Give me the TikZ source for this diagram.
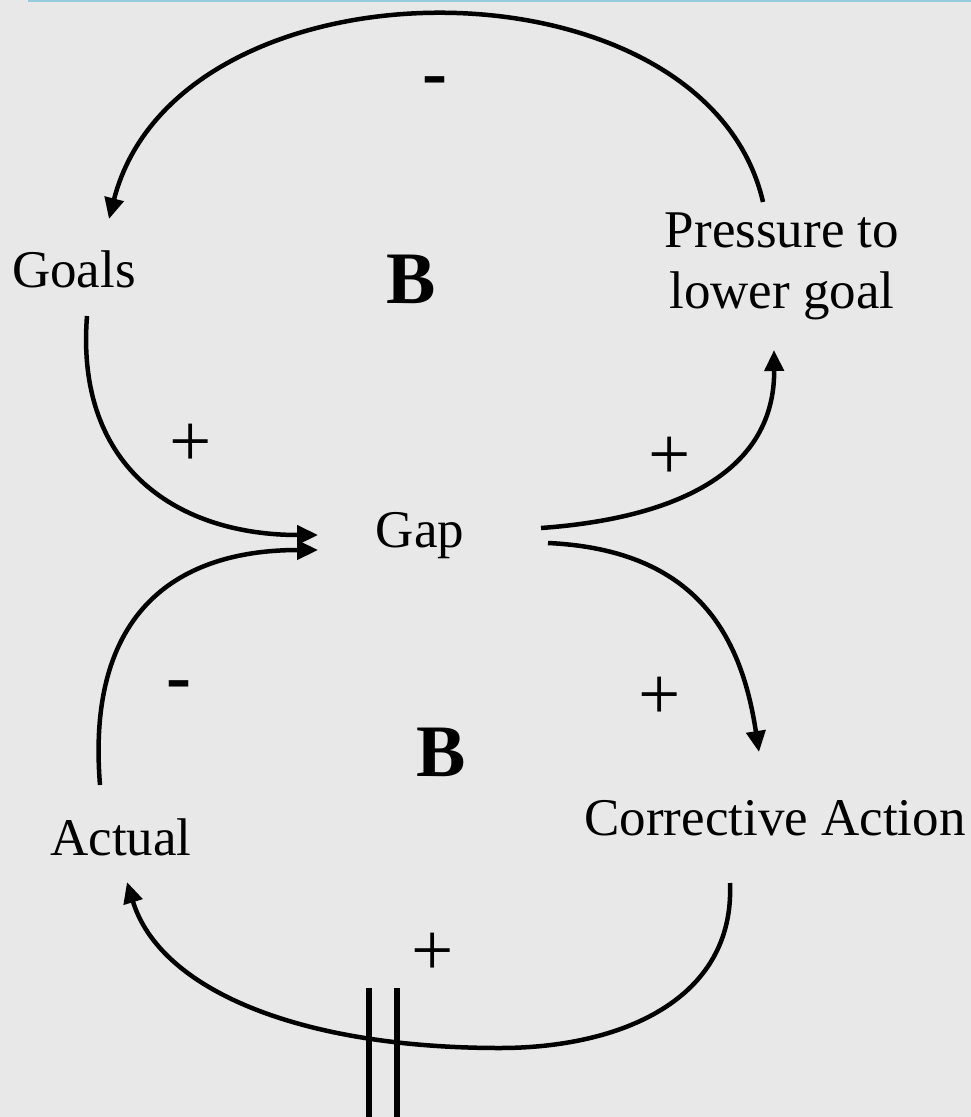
\documentclass[tikz,border=0pt]{standalone}
\usepackage{fontspec}
\setmainfont{Liberation Serif}
\usetikzlibrary{arrows.meta}
\definecolor{bgcol}{RGB}{232,232,232}
\definecolor{edgeblue}{RGB}{150,205,222}
\begin{document}
\begin{tikzpicture}[x=1pt,y=-1pt,
  lbl/.style={font=\fontsize{53}{61}\selectfont, inner sep=0pt, anchor=base, align=center},
  bee/.style={font=\fontsize{74}{80}\selectfont\bfseries, inner sep=0pt, anchor=base},
  sgn/.style={font=\fontsize{75}{80}\selectfont, inner sep=0pt, anchor=base},
  sgnb/.style={font=\fontsize{75}{80}\selectfont\bfseries, inner sep=0pt, anchor=base},
  link/.style={line width=4.5pt, -{Triangle[length=21pt,width=19pt]}},
  delaymark/.style={line width=6pt}
]
\useasboundingbox (0,0) rectangle (971,1117);
\fill[bgcol] (0,0) rectangle (971,1117);
\draw[edgeblue, line width=2pt] (28,1) -- (971,1);

% labels
\node[lbl] (goals) at (74,287) {Goals};
\node[lbl] (gap) at (420,547) {Gap};
\node[lbl] (actual) at (121,855) {Actual};
\node[lbl] (corr) at (775,835) {Corrective Action};
\node[lbl, anchor=center] (press) at (782,266) {Pressure to\\lower goal};
\node[bee] (b1) at (411,303) {B};
\node[bee] (b2) at (441,776) {B};

% polarity signs
\node[sgnb] (m1) at (435,97) {-};
\node[sgnb] (m2) at (179,701) {-};
\node[sgn] (p1) at (191,466) {+};
\node[sgn] (p2) at (670,479) {+};
\node[sgn] (p3) at (660,719) {+};
\node[sgn] (p4) at (433,975) {+};

% connector ends
\coordinate (pressOut) at (763,202);
\coordinate (goalsIn) at (109,219);
\coordinate (goalsOut) at (87,316);
\coordinate (gapIn1) at (318,535);
\coordinate (actualOut) at (100,785);
\coordinate (gapIn2) at (318,550);
\coordinate (gapOut1) at (541,528);
\coordinate (pressIn) at (774,350);
\coordinate (gapOut2) at (548,543);
\coordinate (corrIn) at (759,752);
\coordinate (corrOut) at (730,883);
\coordinate (actualIn) at (127,882);
\coordinate (bottomMid) at (500,1048);

% connectors
\draw[link] (pressOut) .. controls (705,-50) and (178,-50) .. (goalsIn);
\draw[link] (goalsOut) .. controls (75,470) and (180,535) .. (gapIn1);
\draw[link] (actualOut) .. controls (85,600) and (190,550) .. (gapIn2);
\draw[link] (gapOut1) .. controls (680,518) and (775,470) .. (pressIn);
\draw[link] (gapOut2) .. controls (700,550) and (742,640) .. (corrIn);
\draw[link] (corrOut) .. controls (735,1000) and (620,1048) .. (bottomMid)
   .. controls (300,1048) and (160,990) .. (actualIn);

% delay marks
\coordinate (d1top) at (369,988);
\coordinate (d1bot) at (369,1117);
\coordinate (d2top) at (397,988);
\coordinate (d2bot) at (397,1117);
\draw[delaymark] (d1top) -- (d1bot);
\draw[delaymark] (d2top) -- (d2bot);
\end{tikzpicture}
\end{document}
